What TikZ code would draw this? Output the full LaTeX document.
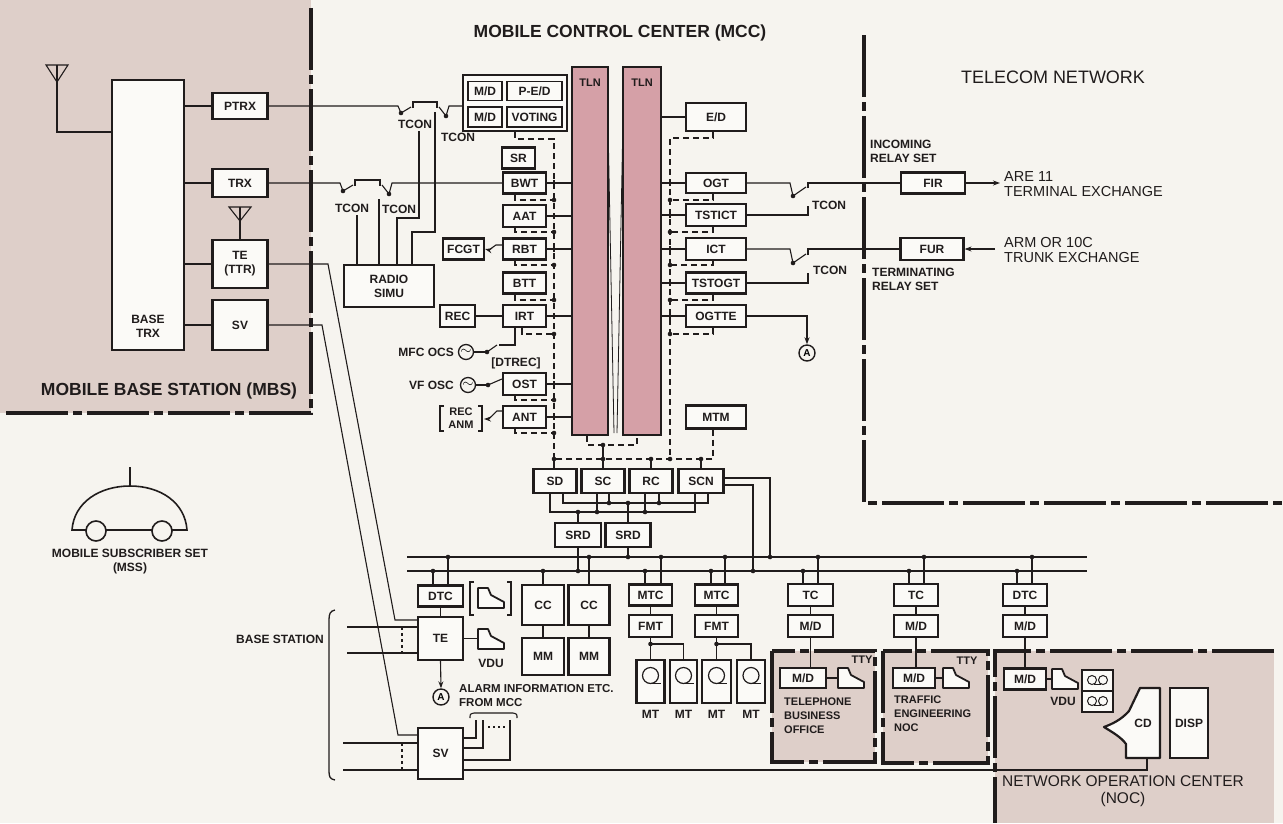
\documentclass[tikz,border=0pt]{standalone}
\usepackage{fontspec}
\setmainfont{Liberation Sans}
\usetikzlibrary{arrows.meta}
\definecolor{paper}{RGB}{246,244,239}
\definecolor{regionpink}{RGB}{222,207,201}
\definecolor{tlnpink}{RGB}{213,160,167}
\definecolor{ink}{RGB}{32,28,28}
\definecolor{boxfill}{RGB}{251,250,247}
\newcommand\lblfont{\fontsize{12}{14}\selectfont\bfseries}
\newcommand\smfont{\fontsize{11}{14}\selectfont\bfseries}
\newcommand\titlefont{\fontsize{17.5}{20}\selectfont\bfseries}
\newcommand\jdot[1]{\fill[ink] (#1) circle (2.3pt);}
\newcommand\xtick[1]{\draw[wire] ([yshift=3pt]#1) -- ([yshift=-3pt]#1);}
\tikzset{
  bx/.style={draw=ink, line width=2.2pt, fill=boxfill, inner sep=0pt, font=\lblfont, text=ink, align=center},
  ibx/.style={bx, line width=1.6pt},
  tln/.style={draw=ink, line width=2.4pt, fill=tlnpink, inner sep=0pt},
  lbl/.style={font=\lblfont, text=ink, inner sep=0pt},
  sml/.style={font=\smfont, text=ink, inner sep=0pt},
  wire/.style={draw=ink, line width=1.1pt},
  dwire/.style={draw=ink, line width=1.2pt, dash pattern=on 6pt off 4pt},
  border/.style={draw=ink, line width=3.6pt, dash pattern=on 62pt off 5pt on 9pt off 5pt},
  arr/.style={wire, -{Stealth[length=7pt,width=5pt]}},
  osc/.style={draw=ink, circle, line width=1.3pt, minimum size=15pt, inner sep=0pt, font=\fontsize{14}{14}\selectfont},
  acirc/.style={draw=ink, circle, line width=1.4pt, minimum size=16pt, inner sep=0pt, font=\fontsize{10}{10}\selectfont\bfseries},
  termicon/.pic={\draw[ink, line width=1.8pt, fill=boxfill, line join=round] (0,20) -- (0,0) -- (10,0) -- (13,7) -- (26,14) -- (26,20) -- cycle;},
  reel/.pic={\draw[ink, line width=1.2pt] (0,0) circle (8pt); \draw[ink, line width=1.2pt] (1,8) -- (10,8);},
  smallreel/.pic={\draw[ink, line width=1pt] (0,0) circle (4.5pt); \draw[ink, line width=1pt] (11,0) circle (4.5pt); \draw[ink, line width=1pt] (2,4.5) -- (9,4.5);},
}
\begin{document}
\begin{tikzpicture}[x=1pt,y=-1pt]
\useasboundingbox (0,0) rectangle (1283,823);
% paper and shaded regions
\fill[paper] (0,0) rectangle (1283,823);
\fill[regionpink] (0,0) rectangle (311,413);
\fill[regionpink] (772,651) rectangle (875,762);
\fill[regionpink] (883,651) rectangle (988,763);
\fill[regionpink] (995,651) rectangle (1274,823);
% region borders
\draw[border] (311,8) -- (311,413) -- (5,413);
\draw[border] (864,35) -- (864,503) -- (1283,503);
\draw[border] (772,651) rectangle (875,762);
\draw[border] (883,651) rectangle (988,763);
\draw[border] (1274,651) -- (995,651) -- (995,823);

% titles
\node[lbl, font=\titlefont] (mbstitle) at (169,391) {MOBILE BASE STATION (MBS)};
\node[lbl, font=\titlefont] (mcctitle) at (620,33) {MOBILE CONTROL CENTER (MCC)};
\node[lbl, font=\fontsize{18}{20}\selectfont] (telecomtitle) at (1053,77) {TELECOM NETWORK};
\node[lbl, font=\fontsize{15.5}{17}\selectfont, align=center] (noctitle) at (1123,791) {NETWORK OPERATION CENTER\\(NOC)};

% ---------------- mobile base station ----------------
\node[bx, minimum width=72, minimum height=270] (basetrx) at (148,215) {};
\node[lbl, align=center] (basetrxtxt) at (148,326) {BASE\\TRX};
\node[bx, minimum width=55, minimum height=26] (ptrx) at (240,106) {PTRX};
\node[bx, minimum width=55, minimum height=28] (trx) at (240,183) {TRX};
\node[bx, minimum width=55, minimum height=48] (tettr) at (240,264) {TE\\(TTR)};
\node[bx, minimum width=55, minimum height=50] (svu) at (240,325) {SV};
\draw[wire] (46,65) -- (68,65) -- (57,82) -- cycle;
\draw[wire] (57,65) -- (57,132) -- ([yshift=83pt]basetrx.west);
\draw[wire] (229,207) -- (251,207) -- (240,221) -- cycle;
\draw[wire] (240,207) -- (tettr.north);
\draw[wire] (ptrx.west) -- (ptrx.west -| basetrx.east);
\draw[wire] (trx.west) -- (trx.west -| basetrx.east);
\draw[wire] (tettr.west) -- (tettr.west -| basetrx.east);
\draw[wire] (svu.west) -- (svu.west -| basetrx.east);

% mobile subscriber set
\draw[wire, line width=1.6pt] (72,530) .. controls (74,502) and (100,486) .. (130,486) .. controls (160,486) and (185,502) .. (187,530) -- cycle;
\draw[wire] (130,467) -- (130,486);
\draw[ink, line width=1.6pt, fill=paper] (96,531) circle (10pt);
\draw[ink, line width=1.6pt, fill=paper] (162,531) circle (10pt);
\node[lbl] (msstxt) at (130,553) {MOBILE SUBSCRIBER SET};
\node[lbl] (msstxt2) at (130,568) {(MSS)};

% ---------------- switching contacts on the radio paths ----------------
\node[bx, minimum width=104, minimum height=56] (grp) at (515,103) {};
\node[ibx, minimum width=34, minimum height=19] (mdA) at (485,91) {M/D};
\node[ibx, minimum width=55, minimum height=19] (ped) at (534.5,91) {P-E/D};
\node[ibx, minimum width=34, minimum height=20] (mdB) at (485,117) {M/D};
\node[ibx, minimum width=55, minimum height=20] (voting) at (534.5,117) {VOTING};

\draw[wire] (ptrx.east) -- (398,106) -- (401,113);
\jdot{401,113}
\draw[wire] (401,113) -- (411,107);
\draw[wire] (413,108) -- (413,102) -- (437,102) -- (437,108);
\draw[wire] (439,107) -- (446,116);
\jdot{446,116}
\draw[wire] (446,116) -- (449,106) -- (grp.west |- ptrx.east);
\node[lbl] (tconA) at (415,124) {TCON};
\node[lbl] (tconB) at (458,137) {TCON};

\node[bx, minimum width=43, minimum height=21] (bwt) at (524.5,183) {BWT};
\draw[wire] (trx.east) -- (340,183) -- (343,191);
\jdot{343,191}
\draw[wire] (343,191) -- (353,185);
\draw[wire] (355,186) -- (355,180) -- (380,180) -- (380,186);
\draw[wire] (382,185) -- (389,194);
\jdot{389,194}
\draw[wire] (389,194) -- (392,183) -- (bwt.west);
\node[lbl] (tconC) at (352,208) {TCON};
\node[lbl] (tconD) at (399,209) {TCON};

\node[bx, minimum width=90, minimum height=42] (simu) at (389,286) {RADIO\\SIMU};
\draw[wire] (357,215) -- ([xshift=-32pt]simu.north);
\draw[wire] (379,199) -- ([xshift=-10pt]simu.north);
\draw[wire] (419,131) |- (397,218) -- ([xshift=8pt]simu.north);
\draw[wire] (435,112) |- (412,232) -- ([xshift=23pt]simu.north);

% ---------------- MCC left column ----------------
\node[bx, minimum width=33, minimum height=21] (sr) at (518.5,158) {SR};
\node[bx, minimum width=43, minimum height=22] (aat) at (524.5,216) {AAT};
\node[bx, minimum width=43, minimum height=21] (rbt) at (524.5,249) {RBT};
\node[bx, minimum width=43, minimum height=21] (btt) at (524.5,283) {BTT};
\node[bx, minimum width=43, minimum height=22] (irt) at (524.5,316) {IRT};
\node[bx, minimum width=43, minimum height=22] (ost) at (524.5,384) {OST};
\node[bx, minimum width=43, minimum height=22] (antb) at (524.5,417) {ANT};
\node[bx, minimum width=41, minimum height=21] (fcgt) at (463.5,249) {FCGT};
\node[bx, minimum width=35, minimum height=22] (rec) at (457.5,316) {REC};

\node[tln, minimum width=36, minimum height=368] (tln1) at (590,251) {};
\node[tln, minimum width=38, minimum height=368] (tln2) at (642,251) {};
\node[lbl, font=\fontsize{11}{12}\selectfont\bfseries] (tln1txt) at (590,83) {TLN};
\node[lbl, font=\fontsize{11}{12}\selectfont\bfseries] (tln2txt) at (642,83) {TLN};
\draw[ink, line width=0.8pt] (608,122) -- (614,433);
\draw[ink, line width=0.8pt] (623,117) -- (617,433);

\foreach \b in {bwt,aat,rbt,irt,ost,antb}{\draw[wire] (\b.east) -- (\b.east -| tln1.west);}
\foreach \y in {183,216,249,316,384,417}{\xtick{554,\y}}

\draw[dwire] (grp.south) |- (554,139) -- (554,459);
\draw[dwire] ([xshift=-9.5pt]bwt.south) |- (554,200);
\draw[dwire] ([xshift=-9.5pt]aat.south) |- (554,232);
\draw[dwire] ([xshift=-9.5pt]rbt.south) |- (554,265);
\draw[dwire] ([xshift=-9.5pt]btt.south) |- (554,300);
\draw[dwire] ([xshift=-2.5pt]irt.south) |- (554,334);
\draw[dwire] ([xshift=-9.5pt]ost.south) |- (554,400);
\draw[dwire] ([xshift=-9.5pt]antb.south) |- (554,433);
\foreach \y in {200,232,265,300,334,400,433}{\jdot{554,\y}}

\draw[arr] ([yshift=4pt]rbt.west) -- ++(-6,0) -- ++(-7,5) -- (fcgt.east);
\draw[wire] (rec.east) -- (irt.west);

\node[lbl, anchor=east] (mfctxt) at (454,352) {MFC OCS};
\node[osc] (osc1) at (466,352) {$\sim$};
\draw[wire] (osc1.east) -- (487,352);
\jdot{487,352}
\draw[wire] (487,352) -- (497,345);
\draw[wire] ([xshift=-9.5pt]irt.south) |- (499,345);
\node[lbl] (dtrec) at (516,363) {[DTREC]};

\node[lbl, anchor=east] (vftxt) at (454,385) {VF OSC};
\node[osc] (osc2) at (468,385) {$\sim$};
\draw[wire] (osc2.east) -- (488,385);
\jdot{488,385}
\draw[wire] (488,385) -- ([yshift=5pt]ost.west);

\node[sml, align=center, font=\fontsize{11}{13}\selectfont\bfseries] (recanm) at (461,418.5) {REC\\ANM};
\draw[ink, line width=1.6pt] (444,406) -- (440,406) -- (440,431) -- (444,431);
\draw[ink, line width=1.6pt] (478,406) -- (482,406) -- (482,431) -- (478,431);
\coordinate (recanmR) at (484,419);
\draw[arr] ([yshift=6pt]antb.west) -- ++(-5,0) -- ++(-8,8) -- (recanmR);

% ---------------- MCC right column ----------------
\node[bx, minimum width=60, minimum height=28] (ed) at (716,117) {E/D};
\node[bx, minimum width=60, minimum height=20] (ogt) at (716,183) {OGT};
\node[bx, minimum width=60, minimum height=22] (tstict) at (716,215) {TSTICT};
\node[bx, minimum width=60, minimum height=22] (ict) at (716,249) {ICT};
\node[bx, minimum width=60, minimum height=21] (tstogt) at (716,283) {TSTOGT};
\node[bx, minimum width=60, minimum height=22] (ogtte) at (716,316) {OGTTE};
\node[bx, minimum width=60, minimum height=23] (mtm) at (716,417) {MTM};

\foreach \b in {ed,ogt,tstict,ict,tstogt,ogtte}{\draw[wire] (tln2.east |- \b.west) -- (\b.west);}
\foreach \y in {183,215,249,283,316}{\xtick{670,\y}}
\draw[dwire] ([xshift=-3pt]ed.south) |- (670,138) -- (670,459);
\draw[dwire] ([xshift=-3pt]ogt.south) |- (670,200);
\draw[dwire] ([xshift=-3pt]tstict.south) |- (670,232);
\draw[dwire] ([xshift=-3pt]ict.south) |- (670,265);
\draw[dwire] ([xshift=-3pt]tstogt.south) |- (670,300);
\draw[dwire] ([xshift=-3pt]ogtte.south) |- (670,334);
\draw[dwire] ([xshift=-3pt]mtm.south) |- (554,459);
\foreach \y in {200,232,265,300,334}{\jdot{670,\y}}

% trunk contacts towards the telecom network
\node[bx, minimum width=64, minimum height=21] (fir) at (933,183) {FIR};
\node[bx, minimum width=63, minimum height=22] (fur) at (932,249) {FUR};
\draw[wire] (ogt.east) -- (790,183) -- (793,196);
\jdot{793,196}
\draw[wire] (793,196) -- (806,187);
\draw[wire] (808,188) -- (808,183) -- (fir.west);
\draw[wire] (tstict.east) -- (808,215) -- (808,206);
\node[lbl] (tconE) at (829,205) {TCON};
\draw[wire] (ict.east) -- (790,249) -- (793,263);
\jdot{793,263}
\draw[wire] (793,263) -- (806,254);
\draw[wire] (808,255) -- (808,249) -- (fur.west);
\draw[wire] (tstogt.east) -- (808,283) -- (808,273);
\node[lbl] (tconF) at (830,270) {TCON};

\node[acirc] (acirc1) at (807,353) {A};
\draw[arr] (ogtte.east) -| (acirc1.north);

\coordinate (arefree) at (1000,183);
\coordinate (armfree) at (995,249);
\draw[arr] (fir.east) -- (arefree);
\draw[arr] (armfree) -- (fur.east);
\node[lbl, font=\fontsize{14.5}{15}\selectfont, anchor=west, align=left] (aretxt) at (1004,184) {ARE 11\\TERMINAL EXCHANGE};
\node[lbl, font=\fontsize{14.5}{15}\selectfont, anchor=west, align=left] (armtxt) at (1004,250) {ARM OR 10C\\TRUNK EXCHANGE};
\node[lbl, anchor=west, align=left] (incoming) at (870,151) {INCOMING\\RELAY SET};
\node[lbl, anchor=west, align=left] (terminating) at (872,279) {TERMINATING\\RELAY SET};

% ---------------- supervisory and control units ----------------
\draw[dwire] ([xshift=-3pt]tln1.south) |- (603,445) -| ([xshift=-5pt]tln2.south);
\jdot{603,445}
\node[bx, minimum width=43, minimum height=24] (sd) at (555,481) {SD};
\node[bx, minimum width=43, minimum height=24] (sc) at (603,481) {SC};
\node[bx, minimum width=43, minimum height=24] (rc) at (651,481) {RC};
\node[bx, minimum width=45, minimum height=24] (scn) at (701,481) {SCN};
\node[bx, minimum width=46, minimum height=24] (srd1) at (578,535) {SRD};
\node[bx, minimum width=45, minimum height=24] (srd2) at (628,535) {SRD};
\draw[wire] (603,445) -- (sc.north);
\draw[wire] (554,459) -- ([xshift=-1pt]sd.north);
\draw[wire] (651,459) -- (rc.north);
\draw[wire] (701,459) -- (scn.north);
\foreach \x in {554,603,651,670,701}{\jdot{\x,459}}

\draw[wire] ([xshift=-5pt]sd.south) |- (695,512) -- ([xshift=-6pt]scn.south);
\draw[wire] ([xshift=8pt]sd.south) |- (708,503) -- ([xshift=7pt]scn.south);
\draw[wire] ([xshift=-6pt]sc.south) -- (597,512);
\draw[wire] ([xshift=6pt]sc.south) -- (609,503);
\draw[wire] ([xshift=-6pt]rc.south) -- (645,512);
\draw[wire] ([xshift=8pt]rc.south) -- (659,503);
\draw[wire] (578,512) -- (srd1.north);
\draw[wire] (628,503) -- (srd2.north);
\foreach \p in {{597,512},{645,512},{578,512},{609,503},{659,503},{628,503}}{\jdot{\p}}

% data bus
\coordinate (busUL) at (407,557);
\coordinate (busUR) at (1087,557);
\coordinate (busLL) at (407,571);
\coordinate (busLR) at (1087,571);
\draw[wire] (busUL) -- (busUR);
\draw[wire] (busLL) -- (busLR);
\draw[wire] (srd1.south) -- (578,571);
\draw[wire] (srd2.south) -- (628,557);
\draw[wire] ([yshift=3pt]scn.east) -| (770,557);
\draw[wire] ([yshift=-4pt]scn.east) -| (753,571);

% base station side
\node[bx, minimum width=45, minimum height=21] (dtcl) at (440.5,596) {DTC};
\node[bx, minimum width=45, minimum height=43] (te2) at (440.5,638.5) {TE};
\node[bx, minimum width=45, minimum height=51] (sv2) at (440.5,753.5) {SV};
\draw[wire] (448,557) -- ([xshift=7.5pt]dtcl.north);
\draw[wire] (433,571) -- ([xshift=-7.5pt]dtcl.north);
\draw[wire] (dtcl.south) -- (te2.north);
\draw[ink, line width=1.3pt] (474,582) -- (470,582) -- (470,615) -- (474,615);
\draw[ink, line width=1.3pt] (507,582) -- (511,582) -- (511,615) -- (507,615);
\pic at (478,588) {termicon};
\pic at (478,629) {termicon};
\draw[wire] (te2.east) -- (478,638.5);
\node[lbl] (vdu1txt) at (491,663) {VDU};
\node[acirc] (acirc2) at (441,697) {A};
\draw[arr] (te2.south) -- (acirc2.north);
\node[lbl, font=\fontsize{11.5}{14}\selectfont\bfseries, anchor=west, align=left] (alarmtxt) at (459,696) {ALARM INFORMATION ETC.\\FROM MCC};

\draw[wire] (tettr.east) -- (328,264) -- (395,620) -- ([yshift=18.5pt]te2.west);
\draw[wire] (svu.east) -- (322,325) -- (398,735) -- ([yshift=18.5pt]sv2.west);
\draw[wire] (347,627) -- ([yshift=11.5pt]te2.west);
\draw[wire] (347,653) -- ([yshift=-14.5pt]te2.west);
\draw[wire, dash pattern=on 3pt off 3pt] (402,627) -- (402,653);
\draw[wire] (343,743) -- ([yshift=10.5pt]sv2.west);
\draw[wire] (343,770) -- ([yshift=-16.5pt]sv2.west);
\draw[wire, dash pattern=on 3pt off 3pt] (402,743) -- (402,770);
\draw[ink, line width=1.3pt] (335,610) .. controls (330,611) and (329,614) .. (329,620) -- (329,771) .. controls (329,777) and (330,779) .. (335,780);
\node[lbl, anchor=east] (bstxt) at (324,639) {BASE STATION};

\draw[wire] ([yshift=15.5pt]sv2.east) -| (476,720);
\draw[wire] ([yshift=5.5pt]sv2.east) -| (483,720);
\draw[wire] ([yshift=-6.5pt]sv2.east) -| (510,720);
\draw[wire, dash pattern=on 2pt off 3pt] (488,727) -- (506,727);
\draw[wire] (470,718) .. controls (470,714) .. (474,713) -- (513,713) .. controls (517,714) .. (517,718);

% central control and memories
\node[bx, minimum width=42, minimum height=40] (cc1) at (543,605) {CC};
\node[bx, minimum width=42, minimum height=37] (mm1) at (543,656.5) {MM};
\node[bx, minimum width=41, minimum height=40] (cc2) at (589,605) {CC};
\node[bx, minimum width=41, minimum height=37] (mm2) at (589,656.5) {MM};
\draw[wire] (543,571) -- (cc1.north);
\draw[wire] (589,557) -- (cc2.north);
\draw[wire] (cc1.south) -- (mm1.north);
\draw[wire] (cc2.south) -- (mm2.north);

% magnetic tape units
\node[bx, minimum width=43, minimum height=21] (mtc1) at (650.5,595) {MTC};
\node[bx, minimum width=43, minimum height=22] (fmt1) at (650.5,626) {FMT};
\node[bx, minimum width=43, minimum height=21] (mtc2) at (716.5,595) {MTC};
\node[bx, minimum width=43, minimum height=22] (fmt2) at (716.5,626) {FMT};
\draw[wire] (661,557) -- ([xshift=10.5pt]mtc1.north);
\draw[wire] (645,571) -- ([xshift=-5.5pt]mtc1.north);
\draw[wire] (725,557) -- ([xshift=8.5pt]mtc2.north);
\draw[wire] (711,571) -- ([xshift=-5.5pt]mtc2.north);
\draw[wire] (mtc1.south) -- (fmt1.north);
\draw[wire] (mtc2.south) -- (fmt2.north);
\node[bx, minimum width=28, minimum height=43] (mt1) at (650.5,681.5) {};
\node[bx, minimum width=27, minimum height=43] (mt2) at (683.5,681.5) {};
\node[bx, minimum width=29, minimum height=43] (mt3) at (716.5,681.5) {};
\node[bx, minimum width=28, minimum height=43] (mt4) at (751,681.5) {};
\foreach \m in {mt1,mt2,mt3,mt4}{\pic at ([yshift=6pt]\m.center) {reel};}
\draw[wire] (fmt1.south) -- (mt1.north);
\draw[wire] (650.5,644) -| (mt2.north);
\draw[wire] (fmt2.south) -- (mt3.north);
\draw[wire] (716.5,644) -| (mt4.north);
\jdot{650.5,644}
\jdot{716.5,644}
\foreach \m in {mt1,mt2,mt3,mt4}{\node[lbl] at ([yshift=-32.5pt]\m.center) {MT};}

% remote terminals
\node[bx, minimum width=45, minimum height=22] (tc1) at (810.5,595) {TC};
\node[bx, minimum width=45, minimum height=22] (mda) at (810.5,626) {M/D};
\node[bx, minimum width=44, minimum height=22] (tc2) at (916,595) {TC};
\node[bx, minimum width=44, minimum height=22] (mdb) at (916,626) {M/D};
\node[bx, minimum width=44, minimum height=22] (dtcr) at (1025,595) {DTC};
\node[bx, minimum width=44, minimum height=22] (mdc) at (1025,626) {M/D};
\draw[wire] (818,557) -- ([xshift=7.5pt]tc1.north);
\draw[wire] (803,571) -- ([xshift=-7.5pt]tc1.north);
\draw[wire] (924,557) -- ([xshift=8pt]tc2.north);
\draw[wire] (909,571) -- ([xshift=-7pt]tc2.north);
\draw[wire] (1032,557) -- ([xshift=7pt]dtcr.north);
\draw[wire] (1017,571) -- ([xshift=-8pt]dtcr.north);
\draw[wire] (tc1.south) -- (mda.north);
\draw[wire] (tc2.south) -- (mdb.north);
\draw[wire] (dtcr.south) -- (mdc.north);
\foreach \x in {448,589,628,661,725,770,818,924,1032}{\jdot{\x,557}}
\foreach \x in {433,543,578,645,711,753,803,909,1017}{\jdot{\x,571}}

% telephone business office
\node[bx, minimum width=46, minimum height=20] (mdd) at (803,678) {M/D};
\draw[wire] (mda.south) -- (mda.south |- mdd.north);
\pic at (838,668) {termicon};
\draw[wire] (mdd.east) -- (838,678);
\node[sml] (tty1) at (862,660) {TTY};
\node[sml, anchor=west, align=left] (tbotxt) at (784,716) {TELEPHONE\\BUSINESS\\OFFICE};

% traffic engineering
\node[bx, minimum width=42, minimum height=20] (mde) at (914,678) {M/D};
\draw[wire] (mdb.south) -- (mdb.south |- mde.north);
\pic at (943,668) {termicon};
\draw[wire] (mde.east) -- (943,678);
\node[sml] (tty2) at (967,661) {TTY};
\node[sml, anchor=west, align=left] (tetxt) at (894,714) {TRAFFIC\\ENGINEERING\\NOC};

% network operation center
\node[bx, minimum width=42, minimum height=21] (mdf) at (1025,679) {M/D};
\draw[wire] (mdc.south) -- (mdf.north);
\pic at (1052,669) {termicon};
\draw[wire] (mdf.east) -- (1052,679);
\node[lbl] (vdu2txt) at (1063,701) {VDU};
\node[bx, minimum width=31, minimum height=42] (tape) at (1097.5,691) {};
\draw[ink, line width=1.6pt] (tape.west) -- (tape.east);
\pic at (1092,680) {smallreel};
\pic at (1092,701) {smallreel};
\draw[ink, line width=2.2pt, fill=boxfill, line join=round] (1160,688) -- (1140,688) -- (1129,711) .. controls (1121,720) and (1112,724) .. (1104,727) .. controls (1112,732) and (1121,737) .. (1126,744) -- (1126,758) -- (1160,758) -- cycle;
\node[lbl] (cdtxt) at (1143,723) {CD};
\coordinate (cdbot) at (1147,758);
\node[bx, minimum width=38, minimum height=70] (disp) at (1189,723) {DISP};
\draw[wire] ([yshift=-16.5pt]sv2.east) -- (1147,770) -- (cdbot);
\end{tikzpicture}
\end{document}
